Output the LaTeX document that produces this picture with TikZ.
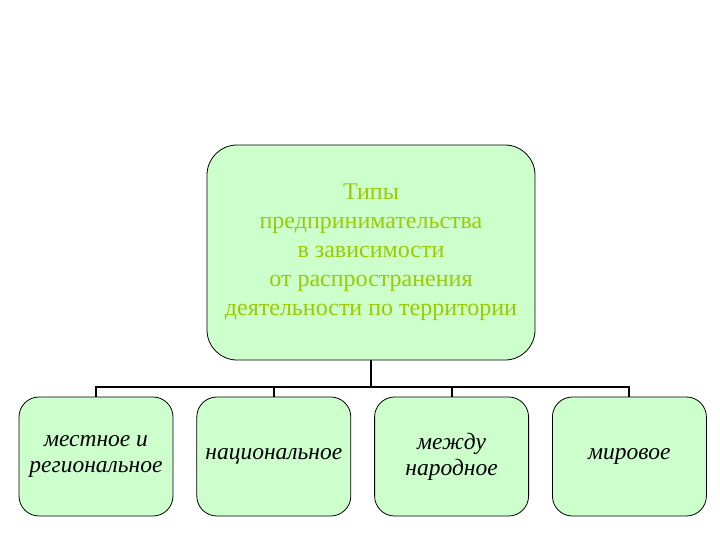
\documentclass[tikz,border=0pt]{standalone}
\usepackage{fontspec}
\setmainfont{Liberation Serif}
\usepackage{tikz}
\usetikzlibrary{positioning}
\definecolor{tfill}{HTML}{CCFFCC}
\definecolor{ttext}{HTML}{99CC00}
\tikzset{
  headbox/.style={draw=black, fill=tfill, rounded corners=30pt, line width=0.8pt,
                  minimum width=328pt, minimum height=215pt, align=center,
                  text=ttext, font=\fontsize{24}{29}\selectfont, inner sep=2pt},
  kindbox/.style={draw=black, fill=tfill, rounded corners=20pt, line width=0.8pt,
                  minimum width=154pt, minimum height=119pt, align=center,
                  font=\fontsize{23.5}{26}\selectfont\itshape, inner sep=2pt},
  link/.style={line width=2pt, black},
}
\begin{document}
\begin{tikzpicture}[x=1pt, y=-1pt]
  \useasboundingbox (0,0) rectangle (720,540);

  \node[headbox] (types) at (371,252.5)
    {Типы\\ предпринимательства\\ в зависимости\\ от распространения\\ деятельности по территории};

  \node[kindbox] (local) at (96,456.5) {местное и\\ региональное};
  \node[kindbox, right=23pt of local] (national) {национальное};
  \node[kindbox, right=23pt of national] (inter) {между\\ народное};
  \node[kindbox, right=23pt of inter] (world) {мировое};

  \coordinate (bus) at (371,387);
  \draw[link] (types.south) -- (bus);
  \foreach \b in {local, national, inter, world}
    \draw[link] (bus) -| (\b.north);
\end{tikzpicture}
\end{document}
